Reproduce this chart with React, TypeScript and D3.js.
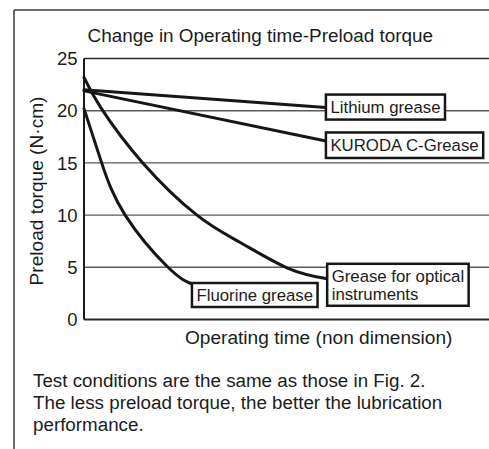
import React, { useEffect, useRef } from "react";
import * as d3 from "d3";

// ---- data ----
const yTicks = [0, 5, 10, 15, 20, 25];
const titleText = "Change in Operating time-Preload torque";
const xLabelText = "Operating time (non dimension)";
const yLabelText = "Preload torque (N·cm)";
const footerLines = [
  "Test conditions are the same as those in Fig. 2.",
  "The less preload torque, the better the lubrication",
  "performance.",
];

const lithiumTime = [0, 57.6];
const lithiumTorque = [22.0, 20.3];
const kurodaTime = [0, 57.6];
const kurodaTorque = [21.9, 17.1];
const fluorineTime = [0, 4.2, 9.8, 20, 25.7];
const fluorineTorque = [20.2, 15, 10, 5, 3.4];
const opticalTime = [0, 4.0, 14, 26.9, 37.1, 48.6, 57.9];
const opticalTorque = [23.2, 20.3, 15, 10, 7.4, 4.9, 3.9];

const seriesNames = ["Lithium grease", "KURODA C-Grease", "Fluorine grease", "Grease for optical\ninstruments"];

// label box offsets relative to series end point (layout)
const labelLayout = [
  { top: -13, h: 25 },
  { top: -8.5, h: 25.5 },
  { top: -1, h: 24 },
  { top: -15, h: 42 },
];

const FONT = "'Liberation Sans', Arial, Helvetica, sans-serif";

export default function App() {
  const ref = useRef<SVGSVGElement | null>(null);

  useEffect(() => {
    const svg = d3.select(ref.current);
    svg.selectAll("*").remove();

    const W = 489, H = 449;
    const x = d3.scaleLinear().domain([0, 100]).range([84, 504]);
    const y = d3.scaleLinear().domain([0, 25]).range([319.5, 58.5]);

    const ink = "#1c1c1c";

    // outer frame
    svg.append("line").attr("x1", 14).attr("x2", 14).attr("y1", 10).attr("y2", H)
      .attr("stroke", "#3a3a3a").attr("stroke-width", 1.5);
    svg.append("line").attr("x1", 14).attr("x2", W).attr("y1", 10).attr("y2", 10)
      .attr("stroke", "#3a3a3a").attr("stroke-width", 1.5);

    // title
    svg.append("text").attr("x", 87.5).attr("y", 41.7).text(titleText)
      .attr("font-family", FONT).attr("font-size", 18.9).attr("fill", ink);

    // grid lines
    svg.append("g").selectAll("line").data(yTicks.filter(d => d > 0 && d < 25)).join("line")
      .attr("x1", x(0)).attr("x2", W).attr("y1", d => y(d)).attr("y2", d => y(d))
      .attr("stroke", "#5a5a5a").attr("stroke-width", 1.4);
    // top border of plot
    svg.append("line").attr("x1", x(0)).attr("x2", W).attr("y1", y(25)).attr("y2", y(25))
      .attr("stroke", "#2a2a2a").attr("stroke-width", 1.6);
    // axes
    svg.append("line").attr("x1", x(0)).attr("x2", W).attr("y1", y(0)).attr("y2", y(0))
      .attr("stroke", "#2a2a2a").attr("stroke-width", 2);
    svg.append("line").attr("x1", x(0)).attr("x2", x(0)).attr("y1", y(25)).attr("y2", y(0))
      .attr("stroke", "#1a1a1a").attr("stroke-width", 2);

    // y tick labels
    svg.append("g").selectAll("text").data(yTicks).join("text")
      .attr("x", 77.5).attr("y", d => y(d) + 6.6).attr("text-anchor", "end")
      .attr("font-family", FONT).attr("font-size", 18.5).attr("fill", ink)
      .text(d => String(d));

    // y label
    svg.append("text").attr("transform", "translate(43.3,191) rotate(-90)")
      .attr("text-anchor", "middle").attr("font-family", FONT).attr("font-size", 19.1)
      .attr("fill", ink).text(yLabelText);

    // x label
    svg.append("text").attr("x", 185).attr("y", 343.5).text(xLabelText)
      .attr("font-family", FONT).attr("font-size", 19.1).attr("fill", ink);

    // footer
    svg.append("g").selectAll("text").data(footerLines).join("text")
      .attr("x", 33).attr("y", (_, i) => 386.7 + i * 22)
      .attr("font-family", FONT).attr("font-size", 18.8).attr("fill", ink)
      .text(d => d);

    // series
    const series = [
      { t: lithiumTime, v: lithiumTorque, curve: d3.curveLinear },
      { t: kurodaTime, v: kurodaTorque, curve: d3.curveLinear },
      { t: fluorineTime, v: fluorineTorque, curve: d3.curveNatural },
      { t: opticalTime, v: opticalTorque, curve: d3.curveNatural },
    ];

    series.forEach(s => {
      const pts = s.t.map((t, i) => [t, s.v[i]] as [number, number]);
      const line = d3.line<[number, number]>().x(d => x(d[0])).y(d => y(d[1])).curve(s.curve);
      svg.append("path").attr("d", line(pts) as string).attr("fill", "none")
        .attr("stroke", "#161616").attr("stroke-width", 3).attr("stroke-linecap", "round");
    });

    // label boxes
    series.forEach((s, i) => {
      const n = s.t.length - 1;
      const ex = x(s.t[n]);
      const ey = y(s.v[n]);
      const lay = labelLayout[i];
      const g = svg.append("g");
      const rect = g.append("rect");
      const lines = seriesNames[i].split("\n");
      const texts = g.selectAll("text").data(lines).join("text")
        .attr("x", ex + 4.5).attr("y", (_, k) => ey + lay.top + 18.3 + k * 18)
        .attr("font-family", FONT).attr("font-size", 16.8).attr("fill", ink)
        .text(d => d);
      let maxW = 0;
      texts.each(function () {
        const w = (this as SVGTextElement).getComputedTextLength();
        if (w > maxW) maxW = w;
      });
      rect.attr("x", ex).attr("y", ey + lay.top).attr("width", maxW + 9).attr("height", lay.h)
        .attr("fill", "#fff").attr("stroke", "#161616").attr("stroke-width", 2.5);
    });
  }, []);

  return (
    <svg ref={ref} width={489} height={449}
      style={{ position: "absolute", left: 0, top: 0, background: "#fff" }} />
  );
}
